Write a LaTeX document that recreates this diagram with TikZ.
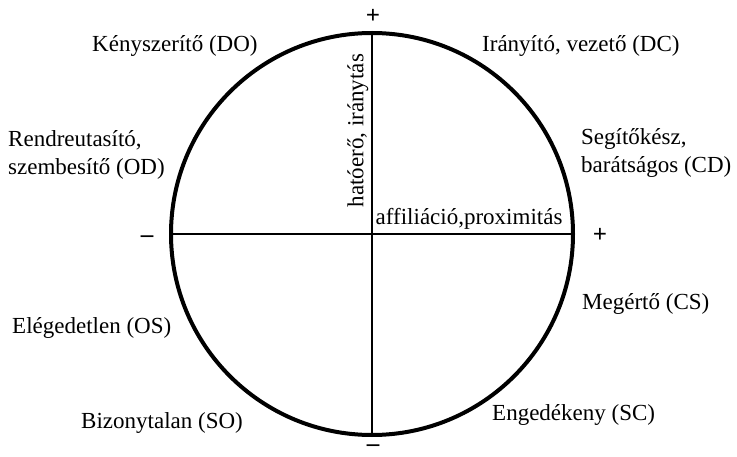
\documentclass[tikz,border=0pt]{standalone}
\usepackage{fontspec}
\setmainfont{Liberation Serif}
\usepackage{tikz}
\usetikzlibrary{positioning}

\begin{document}
\begin{tikzpicture}[x=1pt, y=-1pt, font=\fontsize{23}{28}\selectfont,
		sign/.style={font=\fontsize{25}{28}\selectfont\bfseries, inner sep=0pt},
		minus sign/.style={sign, anchor=base, text height=9pt, text depth=0pt}]
	\useasboundingbox (0,0) rectangle (737,457);

	% Draw circle and axes
	\node[draw, circle, line width=4pt, minimum size=402pt, inner sep=0pt] (kor) at (372,234) {};
	\draw[line width=2.5pt] (kor.north) -- (kor.south);
	\draw[line width=2.5pt] (kor.west) -- (kor.east);

	% Signs
	\node[sign] (pluszN) at (373,16) {+};
	\node[sign] (pluszE) at (600,235) {+};
	\node[minus sign] (minuszW) at (147,243) {--};
	\node[minus sign] (minuszS) at (373,451) {--};

	% Axis labels
	\node[rotate=90, anchor=south west, inner sep=1.5pt] (hatoero) at (370,209) {hatóerő, iránytás};
	\node[anchor=south west, inner sep=1.5pt] (affil) at (374,231) {affiliáció,proximitás};

	% Quadrant labels
	\node[anchor=base west, inner sep=0pt] (DO) at (92,52) {Kényszerítő (DO)};
	\node[anchor=base west, inner sep=0pt] (DC) at (482,52) {Irányító, vezető (DC)};
	\node[anchor=base west, inner sep=0pt, align=left] (OD) at (8,175) {Rendreutasító,\\szembesítő (OD)};
	\node[anchor=base west, inner sep=0pt, align=left] (CD) at (581,173) {Segítőkész,\\barátságos (CD)};
	\node[anchor=base west, inner sep=0pt] (OS) at (12,334) {Elégedetlen (OS)};
	\node[anchor=base west, inner sep=0pt] (CS) at (582,310) {Megértő (CS)};
	\node[anchor=base west, inner sep=0pt] (SO) at (81,428) {Bizonytalan (SO)};
	\node[anchor=base west, inner sep=0pt] (SC) at (492,420) {Engedékeny (SC)};

\end{tikzpicture}
\end{document}
